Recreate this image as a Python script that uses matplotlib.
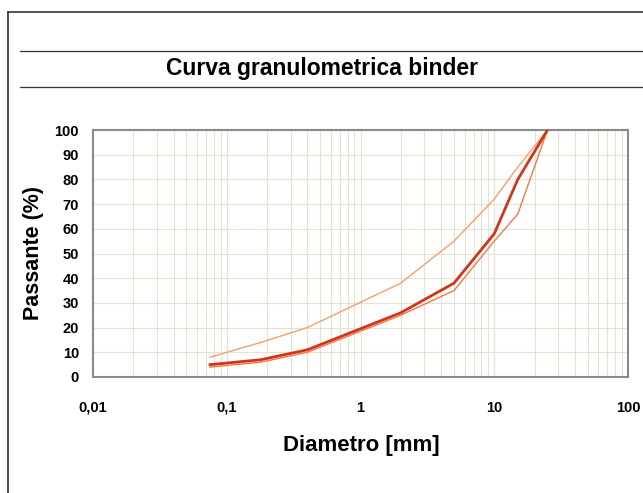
import matplotlib
matplotlib.use("Agg")
import matplotlib.pyplot as plt
from matplotlib.lines import Line2D
from matplotlib.ticker import FixedLocator, LogLocator, NullFormatter

plt.rcParams['font.family'] = ['Liberation Sans', 'DejaVu Sans']

diam = [0.075, 0.18, 0.4, 2, 5, 10, 15, 25]
curve = [5, 7, 11, 26, 38, 58, 80, 100]
upper = [8, 14, 20, 38, 55, 72, 85, 100]
lower = [4, 6, 10, 25, 35, 55, 66, 100]

xticks = [0.01, 0.1, 1, 10, 100]
xticklabels = ["0,01", "0,1", "1", "10", "100"]
yticks = list(range(0, 101, 10))

W, H = 643, 493
fig = plt.figure(figsize=(W / 100, H / 100), dpi=100)

def fx(px):
    return px / W

def fy(py):
    return 1 - py / H

# frame and title rules
fig.add_artist(Line2D([fx(8), fx(8)], [fy(12), fy(493)], color='#333333', lw=1.2))
fig.add_artist(Line2D([fx(8), fx(643)], [fy(12), fy(12)], color='#333333', lw=1.2))
fig.add_artist(Line2D([fx(20), fx(643)], [fy(51), fy(51)], color='#333333', lw=0.9))
fig.add_artist(Line2D([fx(20), fx(643)], [fy(87), fy(87)], color='#333333', lw=0.9))
fig.text(fx(322), fy(69), "Curva granulometrica binder", ha='center', va='center',
         fontsize=16.5, fontweight='bold')

ax = fig.add_axes([fx(93), fy(377), fx(628) - fx(93), fy(130) - fy(377)])
ax.set_xscale('log')
ax.set_xlim(0.01, 100)
ax.set_ylim(0, 100)

ax.plot(diam, upper, color='#f0a070', lw=1.0, zorder=3)
ax.plot(diam, lower, color='#f07848', lw=1.0, zorder=3)
ax.plot(diam, curve, color='#d0341a', lw=2.0, zorder=4)

ax.xaxis.set_major_locator(FixedLocator(xticks))
ax.set_xticklabels(xticklabels)
ax.xaxis.set_minor_locator(LogLocator(base=10, subs=range(2, 10), numticks=20))
ax.xaxis.set_minor_formatter(NullFormatter())
ax.set_yticks(yticks)
ax.grid(True, which='both', color='#e6e2d2', lw=0.8, zorder=0)
ax.tick_params(which='both', length=0)
ax.tick_params(axis='x', pad=17, labelsize=10.5)
ax.tick_params(axis='y', pad=10, labelsize=10.5)
for lab in ax.get_xticklabels() + ax.get_yticklabels():
    lab.set_fontweight('bold')
for s in ax.spines.values():
    s.set_color('#8a8a8a')
    s.set_linewidth(1.5)

fig.text(fx(34), fy(253), "Passante (%)", rotation=90, ha='center', va='center',
         fontsize=15.5, fontweight='bold')
fig.text(fx(361), fy(446), "Diametro [mm]", ha='center', va='center',
         fontsize=16, fontweight='bold')

fig.savefig("out.png", dpi=100)
